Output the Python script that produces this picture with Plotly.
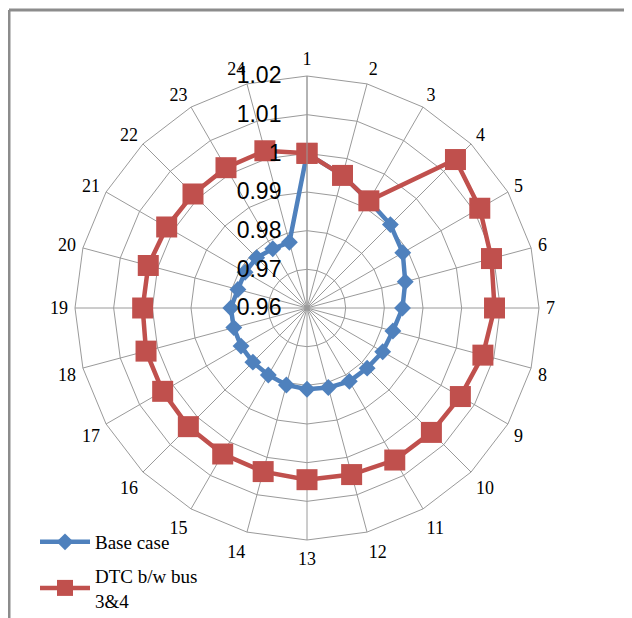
import plotly.graph_objects as go

W, H = 632, 618
OFF = 8  # page body margin
FW, FH = W - OFF, H - OFF

categories = [str(i) for i in range(1, 25)]
base_case = [1.0, 0.9955, 0.992, 0.9905, 0.9886, 0.9863, 0.9847, 0.9830, 0.9826, 0.9820,
             0.9819, 0.9813, 0.9810, 0.9806, 0.9800, 0.9798, 0.9797, 0.9796, 0.9797, 0.9785,
             0.9785, 0.9784, 0.9777, 0.9776]
dtc_bus34 = [1.0, 0.9955, 0.992, 1.0143, 1.0116, 1.0094, 1.0085, 1.0071, 1.0058, 1.0055,
             1.0054, 1.0046, 1.0044, 1.0038, 1.0036, 1.0034, 1.0031, 1.0031, 1.0025, 1.0025,
             1.0019, 1.0017, 1.0019, 1.0021]
radial_ticks = [0.96, 0.97, 0.98, 0.99, 1.0, 1.01, 1.02]
radial_ticktext = ["0.96", "0.97", "0.98", "0.99", "1", "1.01", "1.02"]

BLUE = "#4F81BD"
RED = "#C0504D"
GRID = "#9a9a9a"


def px_x(x):
    return (x - OFF) / FW


def px_y(y):
    return 1 - (y - OFF) / FH


fig = go.Figure()
fig.add_trace(go.Scatterpolar(
    r=base_case + base_case[:1], theta=categories + categories[:1],
    mode="lines+markers", name="Base case", legendgroup="a",
    line=dict(color=BLUE, width=4.5),
    marker=dict(symbol="diamond", size=13, color=BLUE),
))
fig.add_trace(go.Scatterpolar(
    r=dtc_bus34 + dtc_bus34[:1], theta=categories + categories[:1],
    mode="lines+markers", name="DTC b/w bus<br>3&4", legendgroup="b",
    line=dict(color=RED, width=4.5),
    marker=dict(symbol="square", size=21, color=RED),
))

cx, cy, R = 307, 308, 232
fig.update_layout(
    width=FW, height=FH,
    margin=dict(l=0, r=0, t=0, b=0, autoexpand=False),
    paper_bgcolor="white",
    plot_bgcolor="white",
    showlegend=True,
    polar=dict(
        domain=dict(x=[px_x(cx - R), px_x(cx + R)], y=[px_y(cy + R), px_y(cy - R)]),
        bgcolor="white",
        gridshape="linear",
        angularaxis=dict(
            categoryorder="array", categoryarray=categories,
            rotation=90, direction="clockwise",
            showgrid=True, gridcolor=GRID, gridwidth=1,
            showline=True, linecolor=GRID, linewidth=1,
            ticks="outside", ticklen=3, tickcolor="rgba(0,0,0,0)",
            tickfont=dict(family="Liberation Serif", size=18, color="black"),
        ),
        radialaxis=dict(
            range=[0.96, 1.02], tickvals=radial_ticks, ticktext=radial_ticktext,
            angle=90, side="counterclockwise", tickangle=90,
            showgrid=True, gridcolor=GRID, gridwidth=1,
            showline=True, linecolor=GRID, linewidth=1,
            ticks="outside", ticklen=17, tickcolor="rgba(0,0,0,0)",
            tickfont=dict(family="Liberation Sans", size=23, color="black"),
        ),
    ),
    legend=dict(
        x=px_x(35), y=px_y(523), xanchor="left", yanchor="top",
        font=dict(family="Liberation Serif", size=19, color="black"),
        bgcolor="rgba(0,0,0,0)", tracegroupgap=6,
        itemwidth=50,
    ),
    shapes=[
        dict(type="line", xref="paper", yref="paper", x0=px_x(9), x1=1.0, y0=px_y(10), y1=px_y(10),
             line=dict(color="#8c8c8c", width=3)),
        dict(type="line", xref="paper", yref="paper", x0=px_x(9), x1=px_x(9), y0=0, y1=px_y(10),
             line=dict(color="#8c8c8c", width=3)),
    ],
)

fig.write_html("out.html")
